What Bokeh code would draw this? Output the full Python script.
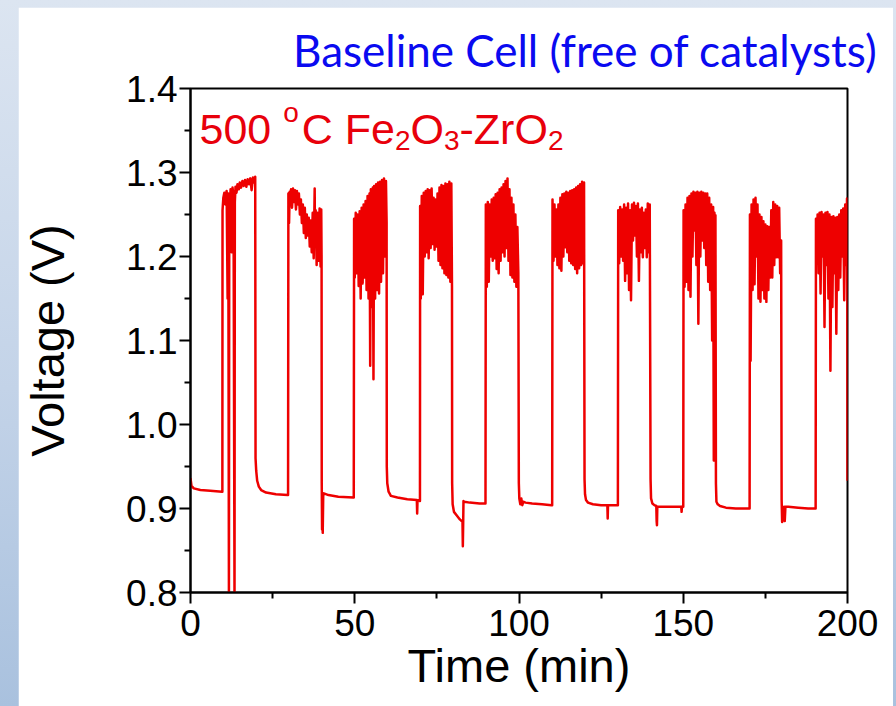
from bokeh.plotting import figure
from bokeh.models import Range1d, FixedTicker, PrintfTickFormatter, Label
from bokeh.layouts import column
from bokeh.embed import file_html
from bokeh.resources import INLINE

# ---------------- data ----------------
x_ticks = [0, 50, 100, 150, 200]
x_minor = [25, 75, 125, 175]
y_ticks = [0.8, 0.9, 1.0, 1.1, 1.2, 1.3, 1.4]
y_minor = [0.85, 0.95, 1.05, 1.15, 1.25, 1.35]

base0_t = [0.0, 0.3, 1.0, 3.0, 6.0, 9.6]
base0_v = [0.936, 0.927, 0.924, 0.922, 0.921, 0.920]
high1_t = [9.7, 9.75, 10.0, 10.3, 10.6, 11.0, 11.3, 11.5, 11.7, 11.8,
           12.0, 12.2, 12.5, 12.8, 13.1, 13.4, 13.5, 13.7, 14.0, 14.3,
           14.7, 15.0, 15.4, 15.8, 16.2, 16.6, 17.0, 17.4, 17.8, 18.2,
           18.6, 19.0, 19.4, 19.7]
high1_v = [0.920, 1.255, 1.270, 1.276, 1.262, 1.278, 1.150, 1.275, 0.790, 1.268,
           1.262, 1.280, 1.205, 1.282, 1.270, 0.790, 1.265, 1.283, 1.276, 1.286,
           1.280, 1.288, 1.282, 1.290, 1.284, 1.291, 1.283, 1.292, 1.286, 1.293,
           1.279, 1.294, 1.288, 1.295]
base1_t = [19.8, 20.0, 20.3, 20.8, 21.5, 23.0, 26.0, 29.6]
base1_v = [0.960, 0.945, 0.933, 0.926, 0.922, 0.919, 0.917, 0.916]
high2_t = [29.7, 29.8, 30.0, 30.2, 30.4, 30.6, 30.9, 31.2, 31.5, 31.8,
           32.1, 32.4, 32.7, 33.0, 33.3, 33.6, 33.9, 34.2, 34.5, 34.8,
           35.1, 35.4, 35.7, 36.0, 36.3, 36.6, 36.9, 37.2, 37.5, 37.8,
           37.9, 38.1, 38.4, 38.7, 39.0, 39.3, 39.6, 39.8, 39.9]
high2_v = [0.916, 1.275, 1.240, 1.277, 1.262, 1.280, 1.258, 1.281, 1.265, 1.279,
           1.256, 1.278, 1.262, 1.275, 1.250, 1.268, 1.240, 1.262, 1.228, 1.258,
           1.222, 1.250, 1.225, 1.246, 1.212, 1.243, 1.205, 1.252, 1.198, 1.281,
           1.215, 1.255, 1.190, 1.252, 1.195, 1.257, 1.188, 1.256, 1.200]
base2_t = [39.95, 40.05, 40.15, 40.25, 40.4, 40.6, 42.0, 45.0, 49.6]
base2_v = [0.930, 0.875, 0.910, 0.871, 0.915, 0.918, 0.916, 0.914, 0.913]
high3_t = [49.7, 49.8, 50.0, 50.3, 50.6, 50.9, 51.2, 51.5, 51.8, 52.1,
           52.4, 52.7, 53.0, 53.3, 53.6, 53.9, 54.2, 54.5, 54.7, 54.9,
           55.2, 55.5, 55.7, 55.9, 56.2, 56.5, 56.8, 57.1, 57.4, 57.7,
           58.0, 58.3, 58.6, 58.9, 59.2, 59.5, 59.7]
high3_v = [0.913, 1.245, 1.175, 1.252, 1.180, 1.250, 1.165, 1.254, 1.150, 1.258,
           1.168, 1.262, 1.175, 1.266, 1.160, 1.272, 1.150, 1.275, 1.070, 1.280,
           1.140, 1.282, 1.054, 1.284, 1.150, 1.286, 1.160, 1.288, 1.156, 1.289,
           1.170, 1.291, 1.180, 1.293, 1.200, 1.290, 1.240]
base3_t = [59.75, 59.9, 60.3, 61.0, 63.0, 66.0, 68.9, 69.0, 69.1, 69.5, 69.8]
base3_v = [0.950, 0.930, 0.920, 0.915, 0.913, 0.911, 0.910, 0.894, 0.909, 0.910, 0.909]
high4_t = [69.85, 69.9, 70.1, 70.4, 70.7, 71.0, 71.3, 71.6, 71.9, 72.2,
           72.5, 72.8, 73.1, 73.4, 73.7, 74.0, 74.3, 74.6, 74.9, 75.2,
           75.5, 75.8, 76.1, 76.4, 76.7, 77.0, 77.3, 77.6, 77.9, 78.2,
           78.5, 78.8, 79.1, 79.4, 79.6]
high4_v = [0.909, 1.260, 1.150, 1.272, 1.155, 1.276, 1.200, 1.278, 1.205, 1.280,
           1.198, 1.279, 1.210, 1.281, 1.215, 1.270, 1.208, 1.268, 1.212, 1.275,
           1.195, 1.282, 1.190, 1.285, 1.186, 1.284, 1.180, 1.287, 1.178, 1.286,
           1.175, 1.289, 1.170, 1.287, 1.164]
base4_t = [79.65, 79.8, 80.2, 81.0, 82.0, 82.8, 82.9, 83.0, 83.1, 83.3, 85.0, 88.0, 89.7]
base4_v = [0.930, 0.905, 0.896, 0.892, 0.887, 0.884, 0.855, 0.880, 0.909, 0.908, 0.907, 0.906, 0.906]
high5_t = [89.8, 89.9, 90.2, 90.5, 90.8, 91.1, 91.4, 91.7, 92.0, 92.3,
           92.6, 92.9, 93.2, 93.5, 93.8, 94.1, 94.4, 94.7, 95.0, 95.3,
           95.6, 95.9, 96.2, 96.5, 96.8, 97.1, 97.4, 97.7, 98.0, 98.3,
           98.6, 98.9, 99.2, 99.5, 99.8]
high5_v = [0.906, 1.262, 1.164, 1.265, 1.170, 1.262, 1.200, 1.268, 1.195, 1.270,
           1.198, 1.274, 1.185, 1.276, 1.180, 1.280, 1.195, 1.282, 1.205, 1.286,
           1.200, 1.290, 1.210, 1.293, 1.195, 1.280, 1.178, 1.270, 1.175, 1.262,
           1.170, 1.250, 1.164, 1.235, 1.180]
base5_t = [99.95, 100.1, 100.4, 100.7, 101.0, 101.3, 102.0, 104.0, 107.0, 109.9]
base5_v = [0.930, 0.912, 0.905, 0.912, 0.904, 0.908, 0.907, 0.906, 0.905, 0.904]
high6_t = [110.1, 110.2, 110.5, 110.8, 111.1, 111.4, 111.7, 112.0, 112.3, 112.6,
           112.9, 113.2, 113.5, 113.8, 114.1, 114.4, 114.7, 115.0, 115.3, 115.6,
           115.9, 116.2, 116.5, 116.8, 117.1, 117.4, 117.7, 118.0, 118.3, 118.6,
           118.9, 119.2, 119.5, 119.8]
high6_v = [0.904, 1.268, 1.195, 1.262, 1.200, 1.256, 1.190, 1.262, 1.186, 1.270,
           1.183, 1.274, 1.200, 1.275, 1.211, 1.277, 1.205, 1.276, 1.195, 1.278,
           1.192, 1.279, 1.190, 1.280, 1.185, 1.282, 1.180, 1.284, 1.186, 1.286,
           1.190, 1.289, 1.192, 1.288]
base6_t = [119.95, 120.1, 120.4, 121.0, 122.5, 125.0, 126.9, 127.0, 127.1, 128.5, 130.0]
base6_v = [0.935, 0.917, 0.910, 0.907, 0.905, 0.904, 0.904, 0.888, 0.904, 0.904, 0.904]
high7_t = [130.1, 130.2, 130.5, 130.8, 131.1, 131.4, 131.7, 132.0, 132.3, 132.6,
           132.9, 133.2, 133.5, 133.8, 134.1, 134.4, 134.7, 135.0, 135.3, 135.6,
           135.9, 136.2, 136.5, 136.8, 137.1, 137.4, 137.7, 138.0, 138.3, 138.6,
           138.9, 139.2, 139.5, 139.8]
high7_v = [0.904, 1.255, 1.192, 1.259, 1.200, 1.256, 1.195, 1.262, 1.171, 1.258,
           1.180, 1.263, 1.160, 1.255, 1.148, 1.262, 1.219, 1.264, 1.225, 1.260,
           1.200, 1.263, 1.171, 1.256, 1.205, 1.258, 1.199, 1.252, 1.210, 1.256,
           1.199, 1.263, 1.205, 1.262]
base7_t = [140.05, 140.2, 140.6, 141.2, 141.8, 141.9, 142.0, 142.1, 143.0, 146.0, 149.4, 149.5, 149.6, 149.9]
base7_v = [0.935, 0.912, 0.906, 0.904, 0.903, 0.885, 0.880, 0.902, 0.902, 0.902, 0.902, 0.896, 0.902, 0.902]
high8_t = [150.0, 150.1, 150.4, 150.7, 151.0, 151.3, 151.6, 151.9, 152.2, 152.5,
           152.8, 153.1, 153.4, 153.7, 154.0, 154.3, 154.6, 154.9, 155.2, 155.5,
           155.8, 156.1, 156.4, 156.7, 157.0, 157.3, 157.6, 157.9, 158.2, 158.5,
           158.8, 159.1, 159.3, 159.5, 159.7, 159.8]
high8_v = [0.902, 1.255, 1.164, 1.262, 1.170, 1.270, 1.160, 1.272, 1.152, 1.275,
           1.200, 1.277, 1.231, 1.276, 1.190, 1.277, 1.120, 1.276, 1.200, 1.277,
           1.219, 1.276, 1.210, 1.275, 1.190, 1.275, 1.170, 1.270, 1.160, 1.262,
           1.100, 1.259, 0.957, 1.252, 1.150, 1.249]
base8_t = [159.95, 160.1, 160.5, 161.2, 163.0, 166.0, 169.9]
base8_v = [0.930, 0.908, 0.905, 0.903, 0.901, 0.900, 0.900]
high9_t = [170.2, 170.3, 170.5, 170.8, 171.1, 171.4, 171.7, 172.0, 172.3, 172.6,
           172.9, 173.2, 173.5, 173.8, 174.1, 174.4, 174.7, 175.0, 175.3, 175.6,
           175.9, 176.2, 176.5, 176.8, 177.1, 177.4, 177.7, 178.0, 178.3, 178.6,
           178.9, 179.2, 179.5, 179.8]
high9_v = [0.900, 1.250, 1.076, 1.262, 1.160, 1.268, 1.167, 1.270, 1.200, 1.262,
           1.150, 1.250, 1.146, 1.247, 1.160, 1.242, 1.150, 1.238, 1.146, 1.236,
           1.160, 1.235, 1.175, 1.255, 1.175, 1.265, 1.190, 1.262, 1.199, 1.260,
           1.199, 1.258, 1.180, 1.219]
base9_t = [179.95, 180.1, 180.3, 180.5, 180.7, 180.9, 181.1, 181.4, 182.0, 185.0, 188.0, 190.2]
base9_v = [0.910, 0.884, 0.900, 0.886, 0.902, 0.885, 0.902, 0.902, 0.902, 0.901, 0.900, 0.900]
high10_t = [190.3, 190.4, 190.6, 190.9, 191.2, 191.5, 191.8, 192.1, 192.4, 192.7,
            193.0, 193.3, 193.6, 193.9, 194.2, 194.5, 194.8, 195.1, 195.4, 195.7,
            196.0, 196.3, 196.6, 196.9, 197.2, 197.5, 197.8, 198.1, 198.4, 198.7,
            199.0, 199.3, 199.6, 199.85, 199.95, 200.0]
high10_v = [0.900, 1.245, 1.192, 1.250, 1.180, 1.252, 1.156, 1.253, 1.200, 1.250,
            1.116, 1.252, 1.190, 1.253, 1.150, 1.250, 1.064, 1.247, 1.140, 1.248,
            1.180, 1.246, 1.108, 1.247, 1.160, 1.250, 1.175, 1.255, 1.200, 1.257,
            1.148, 1.262, 1.190, 1.269, 1.150, 0.933]

segments_t = [base0_t, high1_t, base1_t, high2_t, base2_t, high3_t, base3_t, high4_t,
              base4_t, high5_t, base5_t, high6_t, base6_t, high7_t, base7_t, high8_t,
              base8_t, high9_t, base9_t, high10_t]
segments_v = [base0_v, high1_v, base1_v, high2_v, base2_v, high3_v, base3_v, high4_v,
              base4_v, high5_v, base5_v, high6_v, base6_v, high7_v, base7_v, high8_v,
              base8_v, high9_v, base9_v, high10_v]
time_min = [t for seg in segments_t for t in seg]
voltage = [v for seg in segments_v for v in seg]

title_text = "Baseline Cell (free of catalysts)"
x_label = "Time (min)"
y_label = "Voltage (V)"

# ---------------- figure ----------------
FONT = "Liberation Sans"
p = figure(width=875, height=699, x_range=Range1d(0, 200), y_range=Range1d(0.8, 1.4),
           output_backend="svg", toolbar_location=None,
           min_border_left=172, min_border_right=46, min_border_top=81, min_border_bottom=114,
           background_fill_color="white", border_fill_color="white",
           margin=(7, 3, 0, 18))
p.xgrid.visible = False
p.ygrid.visible = False
p.outline_line_color = "black"
p.outline_line_width = 2

# title (blue, top right)
p.title.text = title_text
p.title.align = "right"
p.title.offset = -30
p.title.standoff = 26
p.title.text_font = "Lato"
p.title.text_font_size = "44px"
p.title.text_font_style = "normal"
p.title.text_color = "#0a0af0"

p.line(time_min, voltage, line_color="#ee0000", line_width=2.5, line_join="round")

p.xaxis.ticker = FixedTicker(ticks=x_ticks, minor_ticks=x_minor)
p.yaxis.ticker = FixedTicker(ticks=y_ticks, minor_ticks=y_minor)
p.yaxis.formatter = PrintfTickFormatter(format="%.1f")
for ax in (p.xaxis[0], p.yaxis[0]):
    ax.axis_line_width = 2
    ax.axis_line_color = "black"
    ax.major_tick_line_width = 2
    ax.minor_tick_line_width = 2
    ax.major_tick_out = 11
    ax.major_tick_in = 0
    ax.minor_tick_out = 6
    ax.minor_tick_in = 0
    ax.major_label_text_font = FONT
    ax.major_label_text_font_size = "37px"
    ax.major_label_text_color = "black"
    ax.axis_label_text_font = FONT
    ax.axis_label_text_font_size = "47px"
    ax.axis_label_text_font_style = "normal"
    ax.axis_label_text_color = "black"
p.xaxis.axis_label = x_label
p.yaxis.axis_label = y_label
p.xaxis.major_label_standoff = 6
p.yaxis.major_label_standoff = 2
p.xaxis.axis_label_standoff = 0
p.yaxis.axis_label_standoff = 49

# red annotation with super/subscripts
AW = {'5': .556, '0': .556, ' ': .278, 'o': .556, 'C': .722, 'F': .611, 'e': .556,
      '2': .556, 'O': .778, '3': .556, '-': .333, 'Z': .611, 'r': .333}
pieces = [("500 ", 0), ("o", 1), ("C Fe", 0), ("2", -1), ("O", 0), ("3", -1), ("-ZrO", 0), ("2", -1)]
F_MAIN, F_SMALL = 43, 28
xo = 9.0
for txt, kind in pieces:
    size = F_MAIN if kind == 0 else F_SMALL
    yo = {0: -40, 1: -24, -1: -52}[kind]
    p.add_layout(Label(x=0, y=1.4, x_offset=xo, y_offset=yo, text=txt,
                       text_align="left", text_baseline="alphabetic",
                       text_font=FONT, text_font_size=f"{size}px", text_color="#e8000b"))
    xo += sum(AW[c] for c in txt) * size
    if kind == 1:
        xo += 3

root = column(p, styles={"background": "linear-gradient(to bottom, #dce5f1 0%, #c3d3e8 55%, #a9c1de 100%)"})
open("out.html", "w").write(file_html(root, INLINE))
